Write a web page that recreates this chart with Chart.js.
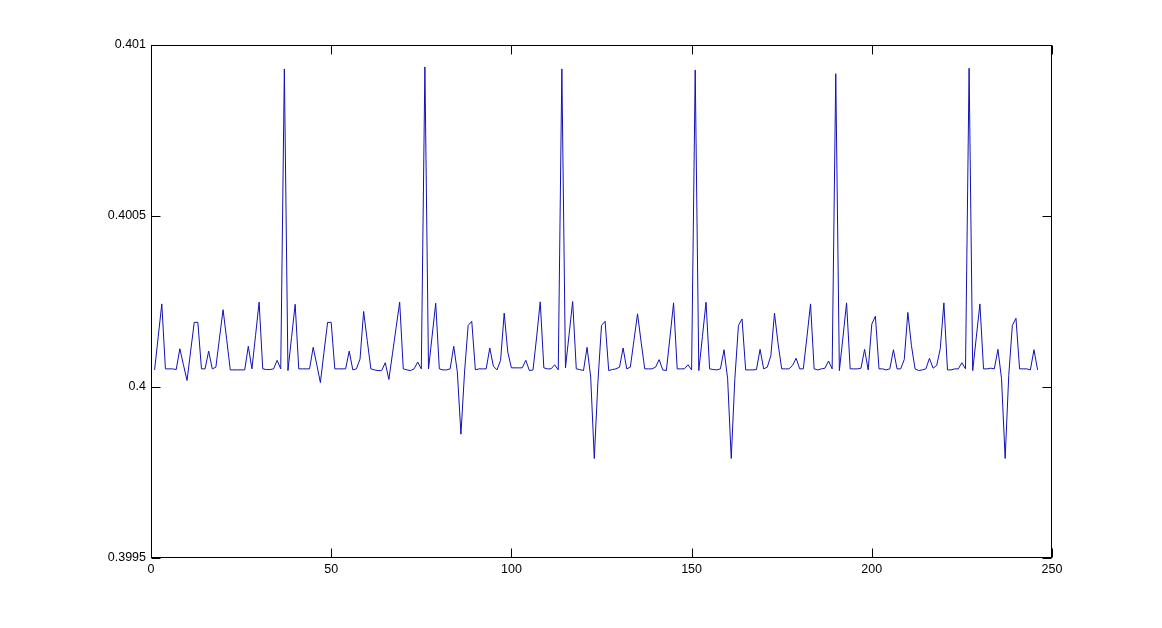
<!DOCTYPE html>
<html>
<head>
<meta charset="utf-8">
<script src="https://cdn.jsdelivr.net/npm/chart.js@4"></script>
<style>
  html, body { margin: 0; padding: 0; background: #fff; }
  #wrap { width: 1162px; height: 628px; }
</style>
</head>
<body>
<div id="wrap"><canvas id="signal"></canvas></div>
<script>
// samples (x = 1..246)
const signal = [
  0.400050, 0.400147, 0.400243, 0.400053, 0.400053, 0.400053, 0.400051, 0.400112, 0.400065, 0.400019,
  0.400105, 0.400189, 0.400189, 0.400053, 0.400053, 0.400105, 0.400053, 0.400058, 0.400143, 0.400226,
  0.400139, 0.400050, 0.400050, 0.400050, 0.400050, 0.400050, 0.400119, 0.400053, 0.400150, 0.400248,
  0.400053, 0.400051, 0.400051, 0.400053, 0.400078, 0.400053, 0.400930, 0.400048, 0.400145, 0.400242,
  0.400053, 0.400053, 0.400053, 0.400053, 0.400116, 0.400065, 0.400013, 0.400102, 0.400189, 0.400189,
  0.400053, 0.400053, 0.400053, 0.400053, 0.400105, 0.400050, 0.400053, 0.400082, 0.400221, 0.400136,
  0.400053, 0.400050, 0.400048, 0.400048, 0.400071, 0.400022, 0.400097, 0.400173, 0.400248, 0.400053,
  0.400050, 0.400048, 0.400053, 0.400073, 0.400053, 0.400936, 0.400053, 0.400149, 0.400245, 0.400053,
  0.400050, 0.400050, 0.400053, 0.400119, 0.400044, 0.399862, 0.400044, 0.400180, 0.400192, 0.400050,
  0.400053, 0.400053, 0.400053, 0.400114, 0.400061, 0.400050, 0.400078, 0.400216, 0.400102, 0.400056,
  0.400056, 0.400056, 0.400056, 0.400078, 0.400048, 0.400050, 0.400146, 0.400249, 0.400056, 0.400053,
  0.400053, 0.400065, 0.400050, 0.400930, 0.400056, 0.400153, 0.400250, 0.400053, 0.400051, 0.400048,
  0.400116, 0.400029, 0.399791, 0.400014, 0.400180, 0.400192, 0.400048, 0.400051, 0.400053, 0.400058,
  0.400114, 0.400053, 0.400058, 0.400136, 0.400214, 0.400131, 0.400053, 0.400053, 0.400053, 0.400058,
  0.400080, 0.400050, 0.400048, 0.400146, 0.400246, 0.400053, 0.400053, 0.400053, 0.400065, 0.400050,
  0.400927, 0.400048, 0.400147, 0.400248, 0.400053, 0.400051, 0.400050, 0.400053, 0.400109, 0.400024,
  0.399791, 0.400024, 0.400180, 0.400199, 0.400050, 0.400050, 0.400050, 0.400051, 0.400110, 0.400053,
  0.400058, 0.400092, 0.400216, 0.400126, 0.400053, 0.400053, 0.400053, 0.400063, 0.400084, 0.400053,
  0.400053, 0.400146, 0.400243, 0.400053, 0.400050, 0.400053, 0.400055, 0.400076, 0.400053, 0.400916,
  0.400048, 0.400146, 0.400246, 0.400053, 0.400053, 0.400053, 0.400055, 0.400110, 0.400050, 0.400184,
  0.400207, 0.400053, 0.400053, 0.400050, 0.400053, 0.400109, 0.400053, 0.400053, 0.400080, 0.400218,
  0.400121, 0.400053, 0.400048, 0.400050, 0.400053, 0.400084, 0.400055, 0.400063, 0.400112, 0.400246,
  0.400050, 0.400050, 0.400053, 0.400053, 0.400071, 0.400053, 0.400932, 0.400048, 0.400146, 0.400243,
  0.400053, 0.400053, 0.400055, 0.400053, 0.400110, 0.400024, 0.399791, 0.400034, 0.400180, 0.400201,
  0.400053, 0.400053, 0.400053, 0.400050, 0.400109, 0.400050
];

const xTicks = [0, 50, 100, 150, 200, 250];
const yTicks = [0.3995, 0.4, 0.4005, 0.401];
const yTickLabels = ['0.3995', '0.4', '0.4005', '0.401'];

const points = signal.map((v, i) => ({ x: i + 1, y: v }));

// matlab style box with inward ticks on all four sides
const boxPlugin = {
    id: 'box',
    afterDraw(chart) {
        const ctx = chart.ctx;
        const a = chart.chartArea;
        const L = Math.round(a.left) + 0.5, R = Math.round(a.right) - 0.5;
        const T = Math.round(a.top) + 0.5, B = Math.round(a.bottom) - 0.5;
        const len = 9;
        ctx.save();
        ctx.strokeStyle = '#000';
        ctx.lineWidth = 1;
        ctx.strokeRect(L, T, R - L, B - T);
        ctx.beginPath();
        xTicks.forEach(v => {
            const x = Math.round(chart.scales.x.getPixelForValue(v)) + 0.5;
            ctx.moveTo(x, B); ctx.lineTo(x, B - len);
            ctx.moveTo(x, T); ctx.lineTo(x, T + len);
        });
        yTicks.forEach(v => {
            const y = Math.round(chart.scales.y.getPixelForValue(v)) + 0.5;
            ctx.moveTo(L, y); ctx.lineTo(L + len, y);
            ctx.moveTo(R, y); ctx.lineTo(R - len, y);
        });
        ctx.stroke();
        ctx.restore();
    }
};

const ctx = document.getElementById('signal').getContext('2d');
const chart = new Chart(ctx, {
    type: 'line',
    data: {
        datasets: [{
            data: points,
            borderColor: '#1010b8',
            borderWidth: 1,
            pointRadius: 0,
            tension: 0,
            fill: false
        }]
    },
    options: {
        responsive: true,
        maintainAspectRatio: false,
        animation: false,
        layout: { padding: { left: 0, right: 110, top: 45, bottom: 0 } },
        plugins: {
            legend: { display: false },
            tooltip: { enabled: false }
        },
        scales: {
            x: {
                type: 'linear',
                min: 0,
                max: 250,
                afterBuildTicks: s => { s.ticks = xTicks.map(v => ({ value: v })); },
                afterFit: s => { s.height = 70; },
                grid: { display: false, drawTicks: false },
                border: { display: false },
                ticks: {
                    padding: 4,
                    color: '#000',
                    font: { family: 'Liberation Sans, Arial, sans-serif', size: 12.5 },
                    maxRotation: 0
                }
            },
            y: {
                type: 'linear',
                min: 0.3995,
                max: 0.401,
                afterBuildTicks: s => { s.ticks = yTicks.map(v => ({ value: v })); },
                afterFit: s => { s.width = 151; },
                grid: { display: false, drawTicks: false },
                border: { display: false },
                ticks: {
                    padding: 5,
                    color: '#000',
                    font: { family: 'Liberation Sans, Arial, sans-serif', size: 12.5 },
                    callback: (v, i) => yTickLabels[i]
                }
            }
        }
    },
    plugins: [boxPlugin]
});
</script>
</body>
</html>
